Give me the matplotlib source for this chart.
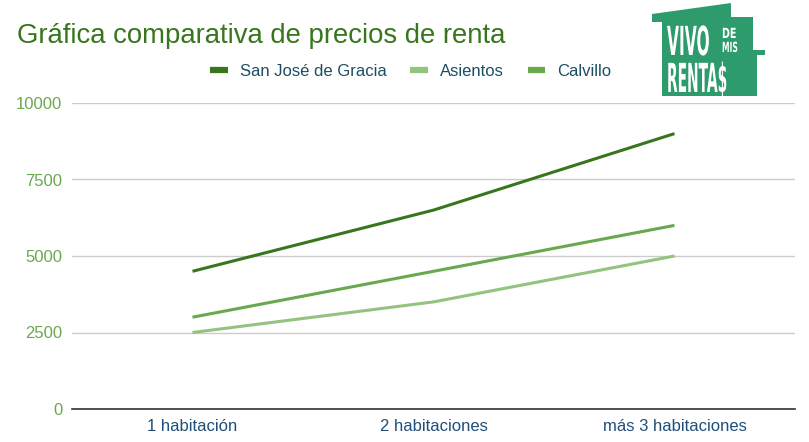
import matplotlib
matplotlib.use("Agg")
import matplotlib.pyplot as plt
from matplotlib.textpath import TextPath
from matplotlib.patches import PathPatch, Polygon
from matplotlib.font_manager import FontProperties
from matplotlib.transforms import Affine2D

plt.rcParams['font.family'] = ['Liberation Sans', 'DejaVu Sans']

categories = ["1 habitación", "2 habitaciones", "más 3 habitaciones"]
san_jose = [4500, 6500, 9000]
asientos = [2500, 3500, 5000]
calvillo = [3000, 4500, 6000]
series_names = ["San José de Gracia", "Asientos", "Calvillo"]
colors = ["#38761d", "#93c47d", "#6aa84f"]
yticks = [0, 2500, 5000, 7500, 10000]

W, H = 809, 442
fig = plt.figure(figsize=(W / 100, H / 100), dpi=100)
ax = fig.add_axes([72 / W, 1 - 409 / H, (795 - 72) / W, (409 - 103) / H])

x = [0, 1, 2]
for vals, name, c in zip([san_jose, asientos, calvillo], series_names, colors):
    ax.plot(x, vals, color=c, lw=2.2, label=name, solid_capstyle='butt')

ax.set_xlim(-0.5, 2.5)
ax.set_ylim(0, 10000)
ax.set_yticks(yticks)
ax.set_yticklabels([str(v) for v in yticks], color="#6aa84f", fontsize=12)
ax.set_xticks(x)
ax.set_xticklabels(categories, color="#1f4e79", fontsize=12)
ax.tick_params(axis='both', length=0, pad=7)
ax.tick_params(axis='y', pad=7)
ax.grid(axis='y', color="#cccccc", lw=1)
ax.set_axisbelow(True)
for s in ["top", "right", "left"]:
    ax.spines[s].set_visible(False)
ax.spines["bottom"].set_color("#333333")
ax.spines["bottom"].set_linewidth(1.2)

fig.text(17 / W, 1 - 43 / H, "Gráfica comparativa de precios de renta",
         color="#38761d", fontsize=19.8, ha="left", va="baseline")

leg = fig.legend(loc="center", bbox_to_anchor=(411 / W, 1 - 71 / H), ncol=3,
                 frameon=False, fontsize=12, handlelength=1.05, handleheight=0.5,
                 columnspacing=1.4, handletextpad=0.75)
for t in leg.get_texts():
    t.set_color("#1c4e63")
for h in leg.get_lines():
    h.set_linewidth(4.5)

# Logo
lax = fig.add_axes([0, 0, 1, 1], zorder=5)
lax.set_xlim(0, W)
lax.set_ylim(H, 0)
lax.axis("off")
green = "#2e9b6c"
poly = [(652, 14), (731, 3), (731, 17), (753, 17), (753, 50), (765, 50),
        (765, 55), (757, 55), (757, 96), (662, 96), (662, 22), (652, 22)]
lax.add_patch(Polygon(poly, closed=True, color=green, lw=0))

fp = FontProperties(family="DejaVu Sans", weight="bold")

def logo_text(s, x0, ybase, sx, sy):
    tp = TextPath((0, 0), s, size=1, prop=fp)
    tr = Affine2D().scale(sx, -sy).translate(x0, ybase) + lax.transData
    lax.add_patch(PathPatch(tp, color="white", lw=0, transform=tr))

logo_text("VIVO", 667, 55, 15.5, 40)
logo_text("DE", 722, 38, 9.5, 14)
logo_text("MIS", 722, 52, 7.6, 14)
logo_text("RENTA$", 667, 92, 13.8, 40)

fig.savefig("out.png", dpi=100, facecolor="white")
